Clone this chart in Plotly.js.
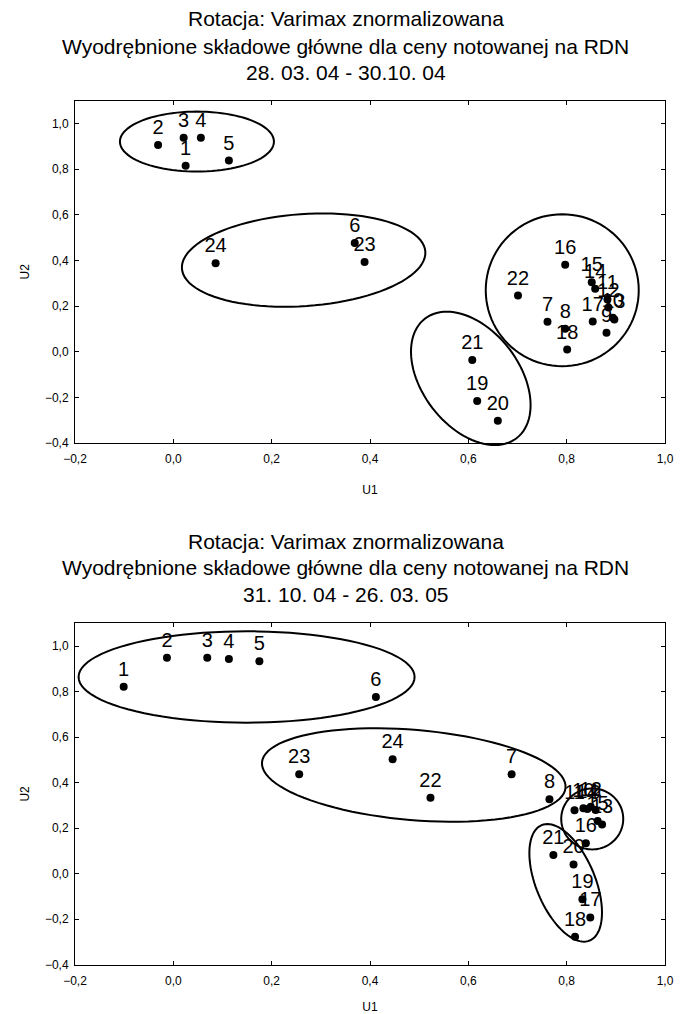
<!DOCTYPE html>
<html>
<head>
<meta charset="utf-8">
<script src="https://cdn.plot.ly/plotly-3.0.1.min.js"></script>
<style>html,body{margin:0;padding:0;background:#fff;}#chart{width:691px;height:1014px;}</style>
</head>
<body>
<div id="chart"></div>
<script>
// ---- data ----
const topTitle = ["Rotacja: Varimax znormalizowana",
  "Wyodrębnione składowe główne dla ceny notowanej na RDN",
  "28. 03. 04 - 30.10. 04"];
const botTitle = ["Rotacja: Varimax znormalizowana",
  "Wyodrębnione składowe główne dla ceny notowanej na RDN",
  "31. 10. 04 - 26. 03. 05"];

const topLabels = ["1","2","3","4","5","6","7","8","9","10","11","12","13","14","15","16","17","18","19","20","21","22","23","24"];
const topU1 = [0.025,-0.031,0.021,0.056,0.113,0.369,0.761,0.797,0.881,0.894,0.883,0.885,0.897,0.858,0.851,0.797,0.853,0.801,0.618,0.660,0.608,0.701,0.389,0.086];
const topU2 = [0.814,0.905,0.937,0.937,0.837,0.476,0.131,0.100,0.083,0.148,0.228,0.193,0.141,0.276,0.304,0.381,0.132,0.009,-0.216,-0.303,-0.037,0.246,0.393,0.387];

const botLabels = ["1","2","3","4","5","6","7","8","9","10","11","12","13","14","15","16","17","18","19","20","21","22","23","24"];
const botU1 = [-0.101,-0.013,0.069,0.113,0.175,0.412,0.688,0.765,0.859,0.834,0.816,0.849,0.872,0.842,0.863,0.839,0.848,0.817,0.832,0.814,0.773,0.523,0.256,0.446];
const botU2 = [0.821,0.949,0.949,0.943,0.933,0.776,0.436,0.327,0.279,0.287,0.278,0.294,0.216,0.284,0.231,0.133,-0.193,-0.278,-0.113,0.040,0.081,0.333,0.436,0.502];

const xTitle = "U1", yTitle = "U2";

// group outlines: centre in data units, semi-axes in px, tilt in degrees
const topGroups = [
  {cx:0.048, cy:0.920, a:77, b:30, ang:0},
  {cx:0.265, cy:0.401, a:122, b:46, ang:-4},
  {cx:0.791, cy:0.269, a:76.5, b:76, ang:0},
  {cx:0.605, cy:-0.117, a:75.3, b:48.5, ang:52.6}
];
const botGroups = [
  {cx:0.149, cy:0.864, a:168, b:45.7, ang:0},
  {cx:0.489, cy:0.433, a:152.3, b:45.1, ang:4.8},
  {cx:0.852, cy:0.240, a:31, b:30.5, ang:0},
  {cx:0.798, cy:-0.041, a:62.5, b:29.5, ang:67.4}
];

// ---- layout geometry ----
const W = 691, H = 1014, ML = 75, MR = 26;
const PW = W - ML - MR;
const xRange = [-0.2, 1.0], yRange = [-0.4, 1.1];
const topPx = [100.5, 443], botPx = [623.3, 964.5];
const dom = p => [1 - p[1] / H, 1 - p[0] / H];

function ellipsePath(g, px) {
  const ph = px[1] - px[0];
  const cxp = ML + (g.cx - xRange[0]) / (xRange[1] - xRange[0]) * PW;
  const cyp = px[0] + (yRange[1] - g.cy) / (yRange[1] - yRange[0]) * ph;
  const f = g.ang * Math.PI / 180;
  let d = "";
  for (let i = 0; i <= 96; i++) {
    const t = i / 96 * 2 * Math.PI;
    const dx = g.a * Math.cos(t) * Math.cos(f) - g.b * Math.sin(t) * Math.sin(f);
    const dy = g.a * Math.cos(t) * Math.sin(f) + g.b * Math.sin(t) * Math.cos(f);
    const X = (cxp + dx - ML) / PW;
    const Y = 1 - (cyp + dy) / H;
    d += (i === 0 ? "M" : "L") + X.toFixed(5) + "," + Y.toFixed(5);
  }
  return {type: "path", xref: "paper", yref: "paper", path: d + "Z",
          line: {color: "#000", width: 2}, fillcolor: "rgba(0,0,0,0)"};
}

const FONT = "Liberation Sans, Arial, sans-serif";
const mk = (x, y, txt, xa, ya) => ({
  type: "scatter", mode: "markers+text", x: x, y: y, text: txt,
  xaxis: xa, yaxis: ya, textposition: "top center", cliponaxis: false,
  marker: {color: "#000", size: 8},
  textfont: {family: FONT, size: 20, color: "#000"},
  hoverinfo: "skip", showlegend: false
});

const axX = (anchor) => ({
  range: xRange, dtick: 0.2, tick0: -0.2, tickformat: ".1f", anchor: anchor,
  showline: true, linecolor: "#000", linewidth: 1, mirror: "ticks",
  ticks: "inside", ticklen: 4, tickcolor: "#000", ticklabelstandoff: 5,
  showgrid: false, zeroline: false, domain: [0, 1],
  tickfont: {family: FONT, size: 12, color: "#000"},
  title: {text: xTitle, font: {family: FONT, size: 12, color: "#000"}, standoff: 20}
});
const axY = (anchor, d) => ({
  range: yRange, tickvals: [-0.4,-0.2,0,0.2,0.4,0.6,0.8,1.0], tickformat: ".1f", anchor: anchor,
  showline: true, linecolor: "#000", linewidth: 1, mirror: "ticks",
  ticks: "inside", ticklen: 4, tickcolor: "#000", ticklabelstandoff: 3,
  showgrid: false, zeroline: false, domain: d,
  tickfont: {family: FONT, size: 12, color: "#000"},
  title: {text: yTitle, font: {family: FONT, size: 12, color: "#000"}, standoff: 12}
});

const titleAnn = [];
const topLineY = [19, 46, 72], botLineY = [541, 567, 594];
topTitle.forEach((t, i) => titleAnn.push({text: t, xref: "paper", yref: "paper",
  x: (W / 2 - ML) / PW, y: 1 - topLineY[i] / H, xanchor: "center", yanchor: "middle",
  showarrow: false, font: {family: FONT, size: 21, color: "#000"}}));
botTitle.forEach((t, i) => titleAnn.push({text: t, xref: "paper", yref: "paper",
  x: (W / 2 - ML) / PW, y: 1 - botLineY[i] / H, xanchor: "center", yanchor: "middle",
  showarrow: false, font: {family: FONT, size: 21, color: "#000"}}));

const layout = {
  width: W, height: H, margin: {l: ML, r: MR, t: 0, b: 0},
  paper_bgcolor: "#fff", plot_bgcolor: "#fff", separators: ", ",
  xaxis: axX("y"), yaxis: axY("x", dom(topPx)),
  xaxis2: axX("y2"), yaxis2: axY("x2", dom(botPx)),
  shapes: topGroups.map(g => ellipsePath(g, topPx)).concat(botGroups.map(g => ellipsePath(g, botPx))),
  annotations: titleAnn,
  font: {family: FONT, color: "#000"}
};

Plotly.newPlot("chart", [mk(topU1, topU2, topLabels, "x", "y"), mk(botU1, botU2, botLabels, "x2", "y2")],
  layout, {staticPlot: true, displayModeBar: false});
</script>
</body>
</html>
